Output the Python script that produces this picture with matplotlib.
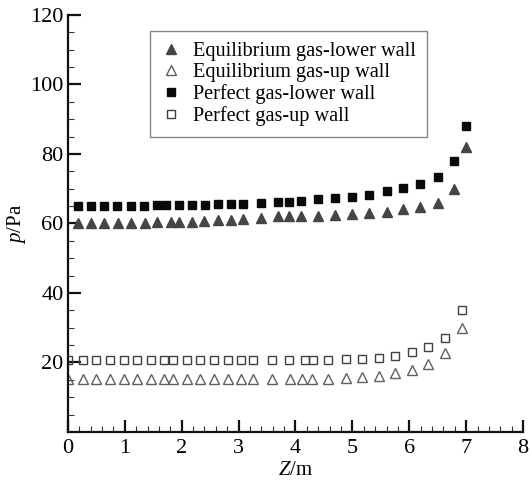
import matplotlib
matplotlib.use("Agg")
import matplotlib.pyplot as plt
from matplotlib.ticker import MultipleLocator, FixedLocator

plt.rcParams['font.family'] = ['Liberation Serif', 'DejaVu Serif']
plt.rcParams['mathtext.fontset'] = 'custom'
plt.rcParams['mathtext.rm'] = 'Liberation Serif'
plt.rcParams['mathtext.it'] = 'Liberation Serif:italic'

# Pressure along the channel walls
z_eq_low = [0.17, 0.40, 0.64, 0.88, 1.11, 1.35, 1.57, 1.81, 1.95, 2.19, 2.40, 2.63,
            2.86, 3.08, 3.40, 3.70, 3.89, 4.10, 4.39, 4.70, 4.99, 5.30, 5.60, 5.89,
            6.18, 6.50, 6.79, 7.00]
p_eq_low = [60.0, 60.0, 60.1, 60.1, 60.2, 60.2, 60.3, 60.4, 60.4, 60.5, 60.7, 60.9,
            61.1, 61.3, 61.6, 62.0, 62.0, 62.2, 62.2, 62.4, 62.6, 63.1, 63.4, 64.2,
            64.8, 66.0, 69.9, 82.1]

z_pg_low = [0.17, 0.40, 0.64, 0.87, 1.11, 1.34, 1.57, 1.73, 1.95, 2.19, 2.41, 2.63,
            2.86, 3.08, 3.40, 3.70, 3.89, 4.10, 4.39, 4.70, 4.99, 5.30, 5.60, 5.89,
            6.18, 6.50, 6.79, 7.00]
p_pg_low = [65.0, 65.0, 65.0, 65.1, 65.1, 65.1, 65.2, 65.2, 65.3, 65.3, 65.4, 65.5,
            65.6, 65.7, 65.9, 66.2, 66.3, 66.5, 67.0, 67.3, 67.6, 68.2, 69.2, 70.1,
            71.3, 73.5, 78.1, 87.9]

z_eq_up = [0.0, 0.26, 0.49, 0.74, 0.99, 1.22, 1.46, 1.69, 1.85, 2.09, 2.33, 2.57,
           2.81, 3.04, 3.26, 3.59, 3.91, 4.12, 4.29, 4.58, 4.88, 5.17, 5.46, 5.75,
           6.05, 6.33, 6.63, 6.92]
p_eq_up = [15.2, 15.2, 15.2, 15.2, 15.2, 15.2, 15.2, 15.2, 15.2, 15.2, 15.2, 15.2,
           15.2, 15.2, 15.2, 15.2, 15.2, 15.2, 15.2, 15.3, 15.4, 15.7, 16.1, 16.9,
           17.8, 19.6, 22.6, 30.0]

z_pg_up = [0.0, 0.26, 0.49, 0.74, 0.99, 1.22, 1.46, 1.69, 1.85, 2.09, 2.33, 2.57,
           2.81, 3.04, 3.26, 3.58, 3.88, 4.16, 4.30, 4.58, 4.88, 5.17, 5.46, 5.75,
           6.05, 6.33, 6.63, 6.92]
p_pg_up = [20.7, 20.7, 20.7, 20.7, 20.7, 20.7, 20.7, 20.7, 20.7, 20.7, 20.7, 20.7,
           20.7, 20.7, 20.7, 20.7, 20.7, 20.7, 20.7, 20.8, 20.9, 21.0, 21.3, 21.9,
           22.9, 24.4, 27.1, 35.1]

labels = ["Equilibrium gas-lower wall", "Equilibrium gas-up wall",
          "Perfect gas-lower wall", "Perfect gas-up wall"]

fig = plt.figure(figsize=(5.3, 4.8), dpi=100)
ax = fig.add_axes([0.128, 0.1, 0.859, 0.869])

ax.plot(z_eq_low, p_eq_low, linestyle='none', marker='^', ms=7.5,
        mfc='#454545', mec='#454545', label=labels[0])
ax.plot(z_eq_up, p_eq_up, linestyle='none', marker='^', ms=7.5, mew=1.0,
        mfc='none', mec='#606060', label=labels[1])
ax.plot(z_pg_low, p_pg_low, linestyle='none', marker='s', ms=5.5,
        mfc='#0a0a0a', mec='#0a0a0a', label=labels[2])
ax.plot(z_pg_up, p_pg_up, linestyle='none', marker='s', ms=5.5, mew=1.0,
        mfc='none', mec='#404040', label=labels[3])

ax.set_xlim(0, 8)
ax.set_ylim(0, 120)
ax.xaxis.set_major_locator(MultipleLocator(1))
ax.xaxis.set_minor_locator(MultipleLocator(0.2))
ax.yaxis.set_major_locator(FixedLocator([20, 40, 60, 80, 100, 120]))
ax.yaxis.set_minor_locator(MultipleLocator(5))

for s in ['top', 'right']:
    ax.spines[s].set_visible(False)
for s in ['left', 'bottom']:
    ax.spines[s].set_linewidth(1.6)
    ax.spines[s].set_color('#111111')

ax.tick_params(which='major', direction='in', length=9, width=1.6,
               labelsize=16, color='#111111', pad=3)
ax.tick_params(which='minor', direction='in', length=4, width=0.8,
               color='#333333')
ax.tick_params(axis='x', which='major', pad=5)

ax.set_xlabel('$Z$/m', fontsize=15, labelpad=2)
ax.set_ylabel('$p$/Pa', fontsize=15, labelpad=2)

leg = ax.legend(loc='upper left', bbox_to_anchor=(0.18, 0.962),
                borderaxespad=0, frameon=True, fancybox=False,
                fontsize=14.6, handlelength=1.0, handletextpad=0.6,
                labelspacing=0.1, borderpad=0.55, edgecolor='#666666')
leg.get_frame().set_linewidth(1.0)

fig.savefig('out.png', dpi=100)
